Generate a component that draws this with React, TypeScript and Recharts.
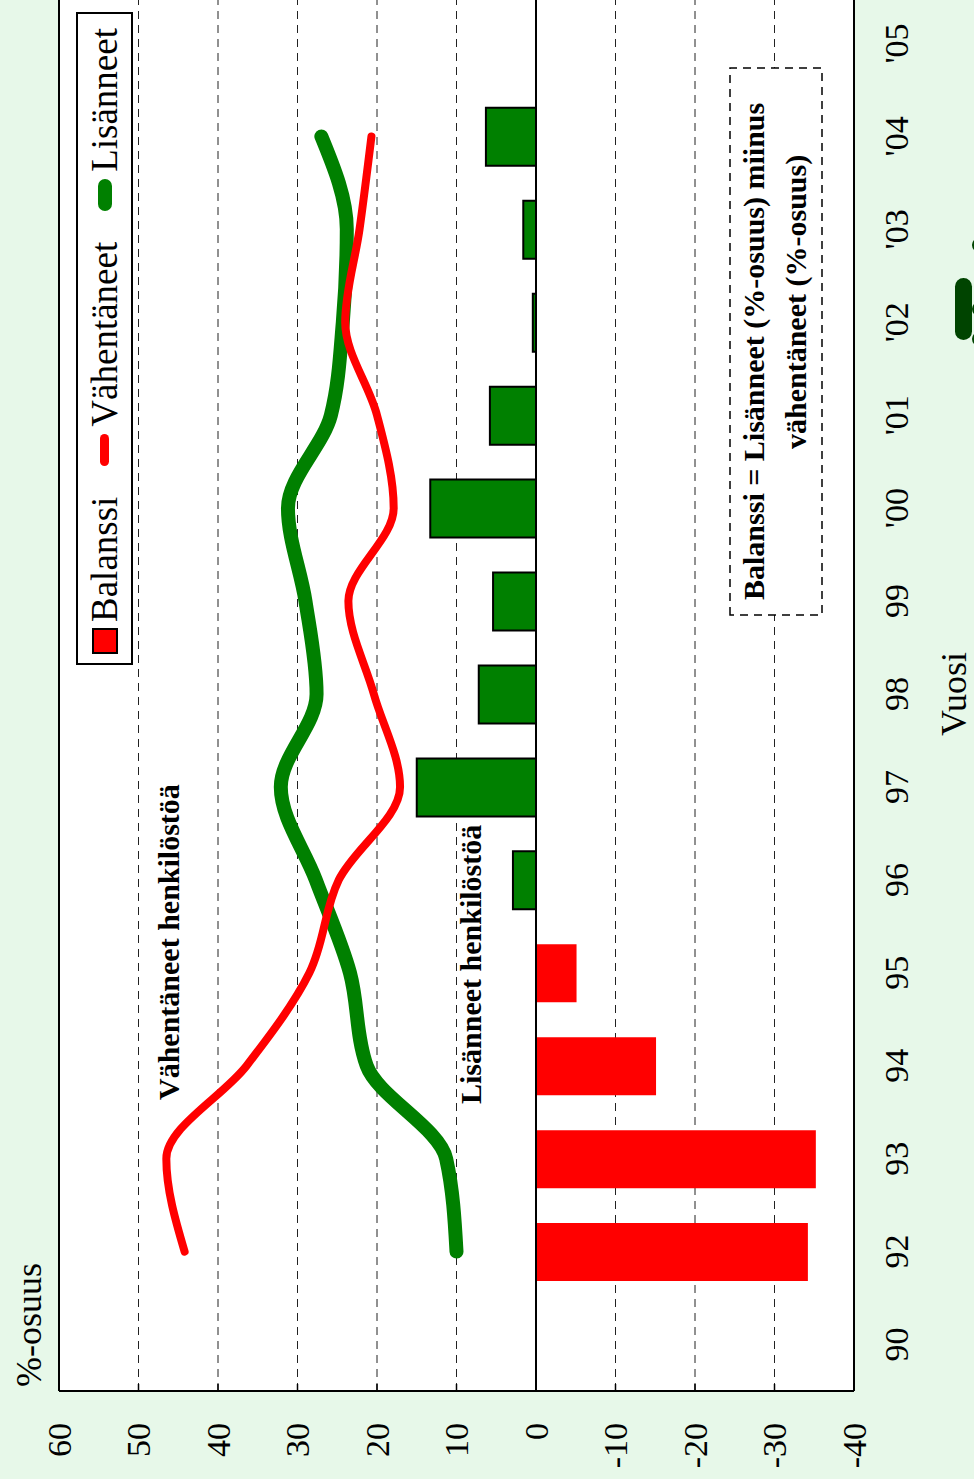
import React from 'react';
import { ComposedChart, Bar, Line, XAxis, YAxis, CartesianGrid, ReferenceLine, Cell, Legend } from 'recharts';

const years = ["90", "92", "93", "94", "95", "96", "97", "98", "99", "'00", "'01", "'02", "'03", "'04", "'05"];
const balanssi: (number | null)[] = [null, -34.2, -35.2, -15.1, -5.1, 2.9, 15.0, 7.2, 5.4, 13.3, 5.8, 0.4, 1.6, 6.3, null];
const vahentaneet: (number | null)[] = [null, 44.2, 46.5, 36.4, 28.5, 24.8, 17.1, 20.4, 23.6, 17.9, 20.0, 24.0, 22.2, 20.7, null];
const lisanneet: (number | null)[] = [null, 10.0, 11.3, 21.3, 23.4, 27.7, 32.1, 27.6, 29.0, 31.2, 25.8, 24.3, 23.8, 27.0, null];
const valueTicks = [60, 50, 40, 30, 20, 10, 0, -10, -20, -30, -40];
const seriesNames = { balanssi: 'Balanssi', vahentaneet: 'Vähentäneet', lisanneet: 'Lisänneet' };
const legendOrder = ['balanssi', 'vahentaneet', 'lisanneet'];

const data = years.map((y, i) => ({
  year: y,
  balanssi: balanssi[i],
  vahentaneet: vahentaneet[i],
  lisanneet: lisanneet[i],
}));

const SERIF = "'Liberation Serif', 'Times New Roman', serif";
const RED = '#ff0000';
const GREEN = '#008000';

const XTick = (props: any) => {
  const { x, y, payload } = props;
  return (
    <text x={x} y={y} textAnchor="middle" dominantBaseline="central" fontSize={34} fontFamily={SERIF} fill="#000">
      {payload.value}
    </text>
  );
};

const YTick = (props: any) => {
  const { x, y, payload } = props;
  return (
    <g>
      <line x1={x + 32} x2={x + 39} y1={y} y2={y} stroke="#000" strokeWidth={1.5} />
      <text x={x} y={y} textAnchor="end" dominantBaseline="central" fontSize={34} fontFamily={SERIF} fill="#000">
        {payload.value}
      </text>
    </g>
  );
};

const LegendContent = (props: any) => {
  const payload: any[] = props.payload || [];
  const items = legendOrder
    .map((k) => payload.find((p) => p.dataKey === k))
    .filter(Boolean);
  return (
    <div
      style={{
        boxSizing: 'border-box',
        width: 653,
        height: 57,
        border: '2px solid #000',
        background: '#fff',
        display: 'flex',
        alignItems: 'center',
        justifyContent: 'space-between',
        padding: '0 14px 0 9px',
        fontFamily: SERIF,
        fontSize: 37,
        color: '#000',
        lineHeight: 1,
      }}
    >
      {items.map((p: any) => (
        <span key={p.dataKey} style={{ display: 'flex', alignItems: 'center' }}>
          {p.dataKey === 'balanssi' ? (
            <span style={{ display: 'inline-block', boxSizing: 'border-box', width: 26, height: 26, background: RED, border: '2px solid #000', marginRight: 6 }} />
          ) : (
            <span
              style={{
                display: 'inline-block',
                width: 32,
                height: p.dataKey === 'lisanneet' ? 14 : 9,
                borderRadius: 8,
                background: p.dataKey === 'lisanneet' ? GREEN : RED,
                marginRight: 7,
              }}
            />
          )}
          <span>{(seriesNames as any)[p.dataKey]}</span>
        </span>
      ))}
    </div>
  );
};

export default function App() {
  return (
    <div
      style={{
        position: 'absolute',
        left: 0,
        top: 0,
        width: 974,
        height: 1479,
        overflow: 'hidden',
        background: '#e7f8e9',
      }}
    >
      <div
        style={{
          position: 'absolute',
          left: 0,
          top: 0,
          width: 1482,
          height: 974,
          transformOrigin: '0 0',
          transform: 'rotate(-90deg) translateX(-1479px)',
        }}
      >
        <ComposedChart
          width={1482}
          height={974}
          data={data}
          margin={{ top: 59, right: 0, bottom: 0, left: 0 }}
          barSize={58}
        >
          <CartesianGrid vertical={false} stroke="#222" strokeDasharray="8 6" strokeWidth={1} fill="#ffffff" fillOpacity={1} />
          <XAxis
            dataKey="year"
            height={120}
            tickSize={0}
            tickMargin={42}
            interval={0}
            axisLine={{ stroke: '#000', strokeWidth: 2 }}
            tick={<XTick />}
          />
          <YAxis
            domain={[-40, 60]}
            ticks={valueTicks}
            width={88}
            tickSize={0}
            tickMargin={32}
            interval={0}
            axisLine={{ stroke: '#000', strokeWidth: 2 }}
            tick={<YTick />}
          />
          <ReferenceLine y={60} stroke="#000" strokeWidth={2} />
          <Bar dataKey="balanssi" name="Balanssi" fill={RED} isAnimationActive={false}>
            {data.map((d, i) => (
              <Cell
                key={i}
                fill={d.balanssi !== null && d.balanssi > 0 ? GREEN : RED}
                stroke={d.balanssi !== null && d.balanssi > 0 ? '#000' : 'none'}
                strokeWidth={d.balanssi !== null && d.balanssi > 0 ? 2 : 0}
              />
            ))}
          </Bar>
          <ReferenceLine y={0} stroke="#000" strokeWidth={2} />
          <Line
            dataKey="lisanneet"
            name="Lisänneet"
            type="monotone"
            stroke={GREEN}
            strokeWidth={14}
            strokeLinecap="round"
            strokeLinejoin="round"
            dot={false}
            activeDot={false}
            isAnimationActive={false}
          />
          <Line
            dataKey="vahentaneet"
            name="Vähentäneet"
            type="monotone"
            stroke={RED}
            strokeWidth={8}
            strokeLinecap="round"
            strokeLinejoin="round"
            dot={false}
            activeDot={false}
            isAnimationActive={false}
          />
          <Legend
            layout="vertical"
            align="center"
            verticalAlign="middle"
            content={<LegendContent />}
            wrapperStyle={{ position: 'absolute', left: 814, top: 76, width: 653, height: 57 }}
          />
        </ComposedChart>
        <svg
          width={1482}
          height={974}
          style={{ position: 'absolute', left: 0, top: 0, pointerEvents: 'none' }}
          fontFamily={SERIF}
        >
          <text x={92} y={41} fontSize={36} fill="#000">%-osuus</text>
          <text x={785} y={966} fontSize={36} textAnchor="middle" fill="#000">Vuosi</text>
          <text x={379} y={179} fontSize={30} fontWeight="bold" fill="#000">Vähentäneet henkilöstöä</text>
          <text x={375} y={481} fontSize={30} fontWeight="bold" fill="#000">Lisänneet henkilöstöä</text>
          <rect x={864} y={730} width={547} height={92} fill="#fff" stroke="#000" strokeWidth={1.5} strokeDasharray="8 6" />
          <text x={879} y={764} fontSize={30} fontWeight="bold" fill="#000">Balanssi = Lisänneet (%-osuus) miinus</text>
          <text x={1030} y={806} fontSize={30} fontWeight="bold" fill="#000">vähentäneet (%-osuus)</text>
          <rect x={1139} y={955} width={62} height={17} rx={8.5} fill="#004400" />
          <circle cx={1140} cy={979} r={7} fill="#004400" />
          <circle cx={1170} cy={979} r={7} fill="#004400" />
          <circle cx={1234} cy={979} r={7} fill="#004400" />
        </svg>
      </div>
    </div>
  );
}
